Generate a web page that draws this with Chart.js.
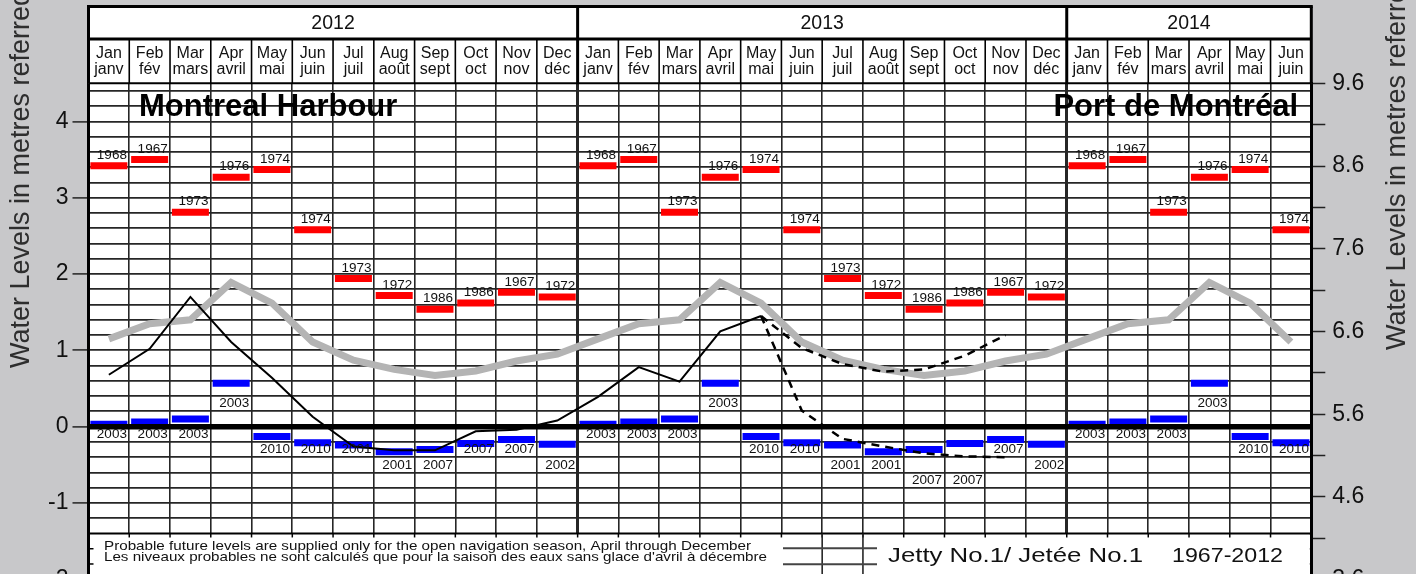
<!DOCTYPE html>
<html>
<head>
<meta charset="utf-8">
<title>Montreal Harbour – water levels</title>
<script src="https://cdn.jsdelivr.net/npm/chart.js@4.4.1/dist/chart.umd.min.js"></script>
<style>
  html, body { margin: 0; padding: 0; overflow: hidden; background: #c8c8ca; }
  #wrap { position: relative; width: 1416px; height: 620px; }
</style>
</head>
<body>
<div id="wrap"><canvas id="levels-chart"></canvas></div>
<script>
// --- data (metres, chart datum) ---
const monthsEn = ['Jan', 'Feb', 'Mar', 'Apr', 'May', 'Jun', 'Jul', 'Aug', 'Sep', 'Oct', 'Nov', 'Dec'];
const monthsFr = ['janv', 'fév', 'mars', 'avril', 'mai', 'juin', 'juil', 'août', 'sept', 'oct', 'nov', 'déc'];
const years = ['2012', '2013', '2014'];
const monthsPerYear = [12, 12, 6];

const recordHigh = [3.42, 3.50, 2.81, 3.27, 3.37, 2.58, 1.94, 1.72, 1.54, 1.62, 1.76, 1.70];
const recordHighYear = ['1968', '1967', '1973', '1976', '1974', '1974', '1973', '1972', '1986', '1986', '1967', '1972'];
const recordLow = [0.03, 0.06, 0.10, 0.57, -0.13, -0.21, -0.24, -0.33, -0.30, -0.22, -0.17, -0.23];
const recordLowYear = ['2003', '2003', '2003', '2003', '2010', '2010', '2001', '2001', '2007', '2007', '2007', '2002'];
const meanLevel = [1.15, 1.35, 1.40, 1.89, 1.62, 1.11, 0.87, 0.75, 0.67, 0.73, 0.86, 0.95];

// Jan 2012 .. May 2013
const recorded = [0.68, 1.02, 1.70, 1.11, 0.64, 0.13, -0.26, -0.31, -0.31, -0.06, -0.04, 0.08,
                  0.39, 0.78, 0.59, 1.25, 1.45];
// May 2013 .. Nov 2013
const probableHigh = [1.45, 1.03, 0.82, 0.72, 0.75, 0.93, 1.20];
const probableLow = [1.45, 0.21, -0.16, -0.26, -0.35, -0.39, -0.40];
const forecastStart = 16;

const leftLabels = [-2, -1, 0, 1, 2, 3, 4];
const rightLabels = [3.6, 4.6, 5.6, 6.6, 7.6, 8.6, 9.6];

// which grid row (below zero) the low-record year tag sits in, per month shown
const lowTagRow = [0, 0, 0, -2, 1, 1, 1, 2, 2, 1, 1, 2,
                   0, 0, 0, -2, 1, 1, 2, 2, 3, 3, 1, 2,
                   0, 0, 0, -2, 1, 1];

const FONT = "'Liberation Sans', Arial, sans-serif";
const INK = '#111';
const GRID = '#262626';
const totalMonths = monthsPerYear.reduce((a, b) => a + b, 0);

const leftTicks = [];
for (let k = 0; k <= 33; k++) leftTicks.push(Math.round((-2.2 + 0.2 * k) * 10) / 10);
const rightTicks = rightLabels.flatMap((v, i) =>
    i < rightLabels.length - 1 ? [v, Math.round((v + 0.5) * 10) / 10] : [v]);

const monthCentres = Array.from({ length: totalMonths }, (_, i) => i + 0.5);
const onMonths = arr => monthCentres.map((x, i) => ({ x: x, y: arr[i % 12] }));

function line(ctx, x1, y1, x2, y2, w, color) {
    ctx.beginPath();
    ctx.lineWidth = w;
    ctx.strokeStyle = color || '#000';
    ctx.moveTo(x1, y1);
    ctx.lineTo(x2, y2);
    ctx.stroke();
}

// stretch/squeeze a string so it covers the given width
function fitText(ctx, text, x, y, width) {
    const w = ctx.measureText(text).width;
    ctx.save();
    ctx.translate(x, y);
    ctx.scale(width / w, 1);
    ctx.textAlign = 'left';
    ctx.fillText(text, 0, 0);
    ctx.restore();
}

const backdrop = {
    id: 'backdrop',
    beforeDraw(chart) {
        const { ctx, chartArea: a } = chart;
        ctx.save();
        ctx.fillStyle = '#c8c8ca';
        ctx.fillRect(0, 0, chart.width, chart.height);
        ctx.fillStyle = '#fff';
        ctx.fillRect(a.left, a.top, a.right - a.left, a.bottom - a.top);
        ctx.restore();
    },
    beforeDatasetsDraw(chart) {
        const { ctx } = chart;
        ctx.save();
        ctx.fillStyle = '#000';
        ctx.font = `bold 31px ${FONT}`;
        ctx.textBaseline = 'alphabetic';
        ctx.textAlign = 'left';
        ctx.fillText('Montreal Harbour', 139, 116);
        ctx.textAlign = 'right';
        ctx.fillText('Port de Montréal', 1298, 116);
        ctx.restore();
    },
    afterDatasetsDraw(chart) {
        const { ctx, chartArea: a, scales: { x, y } } = chart;
        ctx.save();
        const y0 = y.getPixelForValue(0);
        line(ctx, a.left, y0, a.right, y0, 5.5, '#000');

        ctx.beginPath();
        ctx.rect(a.left, a.top, a.right - a.left, a.bottom - a.top);
        ctx.clip();
        ctx.fillStyle = INK;
        ctx.font = `13.5px ${FONT}`;
        ctx.textAlign = 'center';
        ctx.textBaseline = 'middle';
        for (let i = 0; i < totalMonths; i++) {
            const cx = x.getPixelForValue(i + 0.5) + 3;
            ctx.fillText(recordHighYear[i % 12], cx, y.getPixelForValue(recordHigh[i % 12]) - 10.5);
            ctx.fillText(recordLowYear[i % 12], cx, y.getPixelForValue(-0.1 - 0.2 * lowTagRow[i]));
        }
        ctx.restore();
    },
    afterDraw(chart) {
        const { ctx, chartArea: a, scales: { x, y } } = chart;
        ctx.save();

        // header: years and months
        const top = 6.5, yearBottom = 39;
        ctx.fillStyle = '#fff';
        ctx.fillRect(a.left, top, a.right - a.left, a.top - top);
        line(ctx, a.left - 1.5, top, a.right + 1.5, top, 3);
        line(ctx, a.left, yearBottom, a.right, yearBottom, 3);
        line(ctx, a.left, a.top, a.right, a.top, 2);
        let edge = 0;
        const yearEdges = [0];
        monthsPerYear.forEach(n => { edge += n; yearEdges.push(edge); });
        for (let m = 0; m <= totalMonths; m++) {
            const px = x.getPixelForValue(m);
            const isYear = yearEdges.includes(m);
            line(ctx, px, isYear ? top : yearBottom, px, a.top, isYear ? 3 : 1.6);
        }
        ctx.fillStyle = INK;
        ctx.textAlign = 'center';
        ctx.textBaseline = 'middle';
        ctx.font = `19.5px ${FONT}`;
        years.forEach((yr, k) => {
            const cx = (x.getPixelForValue(yearEdges[k]) + x.getPixelForValue(yearEdges[k + 1])) / 2;
            ctx.fillText(yr, cx, 24);
        });
        ctx.font = `16px ${FONT}`;
        for (let m = 0; m < totalMonths; m++) {
            const cx = x.getPixelForValue(m + 0.5);
            ctx.fillText(monthsEn[m % 12], cx, 54);
            ctx.fillText(monthsFr[m % 12], cx, 70);
        }

        // note / legend box at the foot of the plot
        const boxTop = y.getPixelForValue(-1.4);
        ctx.fillStyle = '#fff';
        ctx.fillRect(a.left + 1.5, boxTop, a.right - a.left - 3, chart.height - boxTop);
        line(ctx, a.left, boxTop, a.right, boxTop, 2);
        for (let m = 1; m < totalMonths; m++) {
            const px = x.getPixelForValue(m);
            line(ctx, px, boxTop, px, boxTop + 4, 1.5);
        }
        [-1.6, -1.8, -2.0, -2.2].forEach(v => {
            const py = y.getPixelForValue(v);
            line(ctx, a.left, py, a.left + 5, py, 1.5);
        });
        [18, 19].forEach(m => {
            const px = x.getPixelForValue(m);
            line(ctx, px, boxTop, px, chart.height, 1.6, GRID);
        });
        ctx.fillStyle = INK;
        ctx.textBaseline = 'alphabetic';
        ctx.font = `13px ${FONT}`;
        fitText(ctx, 'Probable future levels are supplied only for the open navigation season, April through December', 104, 549.5, 647);
        fitText(ctx, "Les niveaux probables ne sont calculés que pour la saison des eaux sans glace d'avril à décembre", 104, 561, 663);
        line(ctx, 783, 548.3, 877, 548.3, 2, '#444');
        line(ctx, 783, 564.3, 877, 564.3, 2, '#444');
        ctx.font = `21px ${FONT}`;
        fitText(ctx, 'Jetty No.1/ Jetée No.1', 888, 561.7, 255);
        fitText(ctx, '1967-2012', 1172, 561.7, 111);

        // axis titles
        ctx.fillStyle = '#2e2e2e';
        ctx.font = `27px ${FONT}`;
        ctx.textAlign = 'left';
        ctx.translate(29.3, 368);
        ctx.rotate(-Math.PI / 2);
        ctx.fillText('Water Levels in metres referred to Chart Datum', 0, 0);
        ctx.restore();
        ctx.save();
        ctx.fillStyle = '#2e2e2e';
        ctx.font = `27px ${FONT}`;
        ctx.textAlign = 'left';
        ctx.translate(1405, 350);
        ctx.rotate(-Math.PI / 2);
        ctx.fillText('Water Levels in metres referred to IGLD 1985', 0, 0);
        ctx.restore();
    }
};

function buildLevelsChart(canvas) {
    const isWhole = v => Math.abs(v - Math.round(v)) < 1e-6;
    const config = {
        type: 'line',
        data: {
            datasets: [
                {
                    label: 'Mean 1967-2012',
                    data: onMonths(meanLevel),
                    borderColor: '#b4b4b4',
                    borderWidth: 7,
                    pointRadius: 0,
                    order: 5
                },
                {
                    label: 'Record high',
                    data: onMonths(recordHigh),
                    showLine: false,
                    pointStyle: 'line',
                    pointRadius: 18.5,
                    pointBorderWidth: 7,
                    pointBorderColor: '#ff0000',
                    pointBackgroundColor: '#ff0000',
                    order: 4
                },
                {
                    label: 'Record low',
                    data: onMonths(recordLow),
                    showLine: false,
                    pointStyle: 'line',
                    pointRadius: 18.5,
                    pointBorderWidth: 7,
                    pointBorderColor: '#0000ff',
                    pointBackgroundColor: '#0000ff',
                    order: 3
                },
                {
                    label: 'Recorded',
                    data: recorded.map((v, i) => ({ x: i + 0.5, y: v })),
                    borderColor: '#000',
                    borderWidth: 2,
                    pointRadius: 0,
                    order: 2
                },
                {
                    label: 'Probable high',
                    data: probableHigh.map((v, i) => ({ x: forecastStart + i + 0.5, y: v })),
                    borderColor: '#000',
                    borderWidth: 2.5,
                    borderDash: [8, 6],
                    pointRadius: 0,
                    order: 1
                },
                {
                    label: 'Probable low',
                    data: probableLow.map((v, i) => ({ x: forecastStart + i + 0.5, y: v })),
                    borderColor: '#000',
                    borderWidth: 2.5,
                    borderDash: [8, 6],
                    pointRadius: 0,
                    order: 1
                }
            ]
        },
        options: {
            responsive: true,
            maintainAspectRatio: false,
            animation: false,
            events: [],
            layout: { padding: { top: 83.3, bottom: 25.4, left: 0, right: 0 } },
            elements: { line: { tension: 0 } },
            plugins: { legend: { display: false }, tooltip: { enabled: false } },
            scales: {
                x: {
                    type: 'linear',
                    position: 'top',
                    min: 0,
                    max: totalMonths,
                    afterBuildTicks: s => { s.ticks = Array.from({ length: totalMonths + 1 }, (_, i) => ({ value: i })); },
                    afterFit: s => { s.height = 0; },
                    ticks: { display: false },
                    border: { display: false },
                    grid: {
                        drawTicks: false,
                        color: GRID,
                        lineWidth: c => (c.tick && (c.tick.value === 12 || c.tick.value === 24)) ? 3 : 1.6
                    }
                },
                y: {
                    position: 'left',
                    min: -2.2,
                    max: 4.5,
                    afterBuildTicks: s => { s.ticks = leftTicks.map(v => ({ value: v })); },
                    afterFit: s => { s.width = 88.5; },
                    ticks: {
                        autoSkip: false,
                        padding: 4,
                        color: INK,
                        font: { family: FONT, size: 23 },
                        callback: v => (isWhole(v) && leftLabels.includes(Math.round(v))) ? String(Math.round(v)) : ''
                    },
                    grid: {
                        color: GRID,
                        lineWidth: 1.8,
                        tickLength: 16,
                        tickWidth: 1.5,
                        tickColor: c => (c.tick && isWhole(c.tick.value)) ? '#222' : 'rgba(0,0,0,0)'
                    },
                    border: { color: '#000', width: 3 }
                },
                y2: {
                    position: 'right',
                    min: 3.42,
                    max: 9.6,
                    afterBuildTicks: s => { s.ticks = rightTicks.map(v => ({ value: v })); },
                    afterFit: s => { s.width = 104.7; },
                    ticks: {
                        autoSkip: false,
                        padding: 7,
                        color: INK,
                        font: { family: FONT, size: 23 },
                        callback: v => rightLabels.includes(v) ? v.toFixed(1) : ''
                    },
                    grid: {
                        drawOnChartArea: false,
                        tickLength: 14,
                        tickWidth: 1.5,
                        tickColor: '#222'
                    },
                    border: { color: '#000', width: 3 }
                }
            }
        },
        plugins: [backdrop]
    };

    new Chart(canvas, config);
}

addEventListener('DOMContentLoaded', () => {
    const canvas = document.getElementById('levels-chart');
    if (canvas) {
        buildLevelsChart(canvas);
    }
});
</script>
</body>
</html>
